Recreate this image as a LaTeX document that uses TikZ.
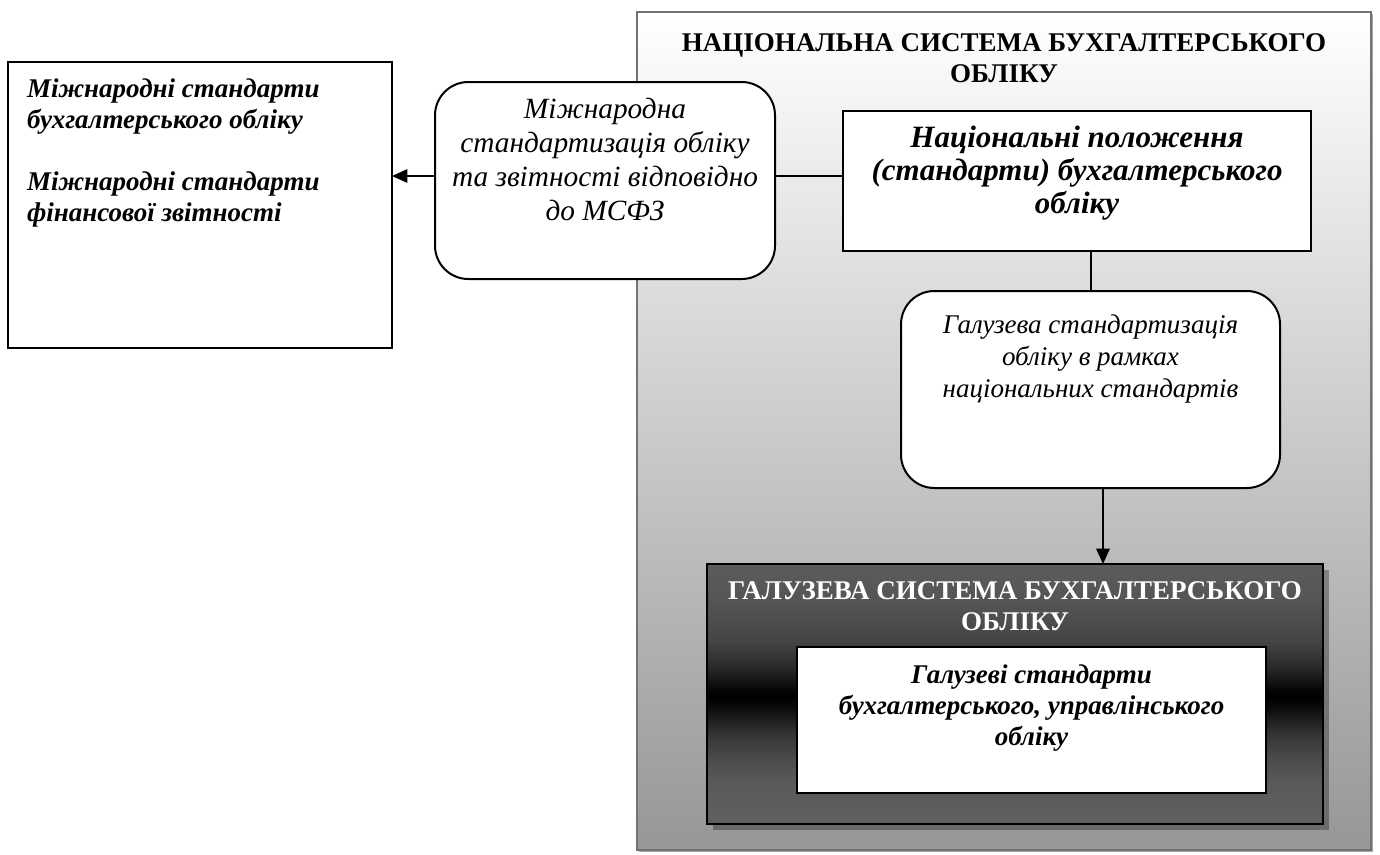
\documentclass[tikz,border=0pt]{standalone}
\usepackage{fontspec}
\setmainfont{Liberation Serif}
\usetikzlibrary{arrows.meta,calc,shadows}

% one drawing unit = one pixel of the 1380x854 canvas
\newdimen\pxu \pxu=0.75pt

% box of fixed size with its text set from the top
\newcommand\inbox[4]{\begin{minipage}[t][#2\pxu][t]{#1\pxu}\vspace*{#3\pxu}#4\end{minipage}}

% band that darkens towards the middle of the sector box
\pgfdeclareverticalshading{darkband}{100bp}{%
  gray(0bp)=(0.376); gray(25bp)=(0.376); gray(32.9bp)=(0.353);
  gray(37.9bp)=(0.29); gray(42.5bp)=(0.2); gray(47.5bp)=(0.039);
  gray(49.4bp)=(0); gray(50.8bp)=(0.02); gray(55.2bp)=(0.165);
  gray(60.4bp)=(0.271); gray(68.1bp)=(0.333); gray(75bp)=(0.361);
  gray(100bp)=(0.361)}

\definecolor{frame}{gray}{0.45}
\definecolor{basegray}{gray}{0.59}

\begin{document}
\begin{tikzpicture}[x=0.75pt,y=-0.75pt,
  every node/.style={inner sep=0pt,outer sep=0pt,anchor=north west,
    font=\fontsize{20.25pt}{23.25pt}\selectfont},
  bigtext/.style={font=\fontsize{22pt}{25.5pt}\selectfont},
  pane/.style={draw=black,line width=1.5pt,fill=white},
  roundpane/.style={pane,rounded corners=25pt},
  link/.style={line width=1.5pt,draw=black},
  arrowlink/.style={link,-{Triangle[length=11.5pt,width=10pt]}}]

\useasboundingbox (0,0) rectangle (1380,854);

% national accounting system (outer shaded frame)
\node[draw=frame,line width=2pt,top color=white,bottom color=basegray,
      drop shadow={shadow xshift=2\pxu,shadow yshift=-2\pxu,opacity=0.35,fill=black}]
  (nat-sys) at (637,12)
  {\inbox{734}{838}{18}{\centering\bfseries\strut НАЦІОНАЛЬНА СИСТЕМА БУХГАЛТЕРСЬКОГО\\ ОБЛІКУ}};

% international standards
\node[pane] (intl) at (8,62)
  {\inbox{384}{286}{14}{\raggedright\leftskip=19\pxu\bfseries\itshape
   \strut Міжнародні стандарти\\ бухгалтерського обліку\\[\baselineskip]
   Міжнародні стандарти\\ фінансової звітності}};

% international standardisation
\node[roundpane,bigtext] (intl-std) at (435,82)
  {\inbox{340}{197}{13}{\centering\itshape\strut Міжнародна\\ стандартизація обліку\\ та звітності відповідно\\ до МСФЗ}};

% national regulations
\node[pane,font=\fontsize{23.25pt}{24.5pt}\selectfont] (nat-reg) at (843,111)
  {\inbox{468}{140}{14}{\centering\bfseries\itshape\strut Національні положення\\ (стандарти) бухгалтерського\\ обліку}};

% sector standardisation
\node[roundpane,font=\fontsize{20.25pt}{24pt}\selectfont] (sect-std) at (901,291)
  {\inbox{379}{197}{20}{\centering\itshape\strut Галузева стандартизація\\ обліку в рамках\\ національних стандартів}};

% sector accounting system
\node[draw=black,line width=1.5pt,shade,shading=darkband,
      drop shadow={shadow xshift=6\pxu,shadow yshift=-6\pxu,opacity=0.3,fill=black}]
  (sect-sys) at (707,564)
  {\inbox{616}{260}{14}{\centering\bfseries\color{white}\strut ГАЛУЗЕВА СИСТЕМА БУХГАЛТЕРСЬКОГО\\ ОБЛІКУ}};

% sector standards
\node[pane] (sect-reg) at (797,647)
  {\inbox{469}{146}{15}{\centering\bfseries\itshape\strut Галузеві стандарти\\ бухгалтерського, управлінського\\ обліку}};

% connectors
\coordinate (intl-out) at ($(intl-std.west)+(0,-4.5)$);
\coordinate (intl-in)  at ($(intl-std.east)+(0,-4.5)$);
\coordinate (sect-out) at ($(sect-std.south)+(12.5,0)$);
\draw[arrowlink] (intl-out) -- (intl-out -| intl.east);
\draw[link] (intl-in) -- (intl-in -| nat-reg.west);
\draw[link] (sect-std.north) -- (sect-std.north |- nat-reg.south);
\draw[arrowlink] (sect-out) -- (sect-out |- sect-sys.north);
\end{tikzpicture}
\end{document}
